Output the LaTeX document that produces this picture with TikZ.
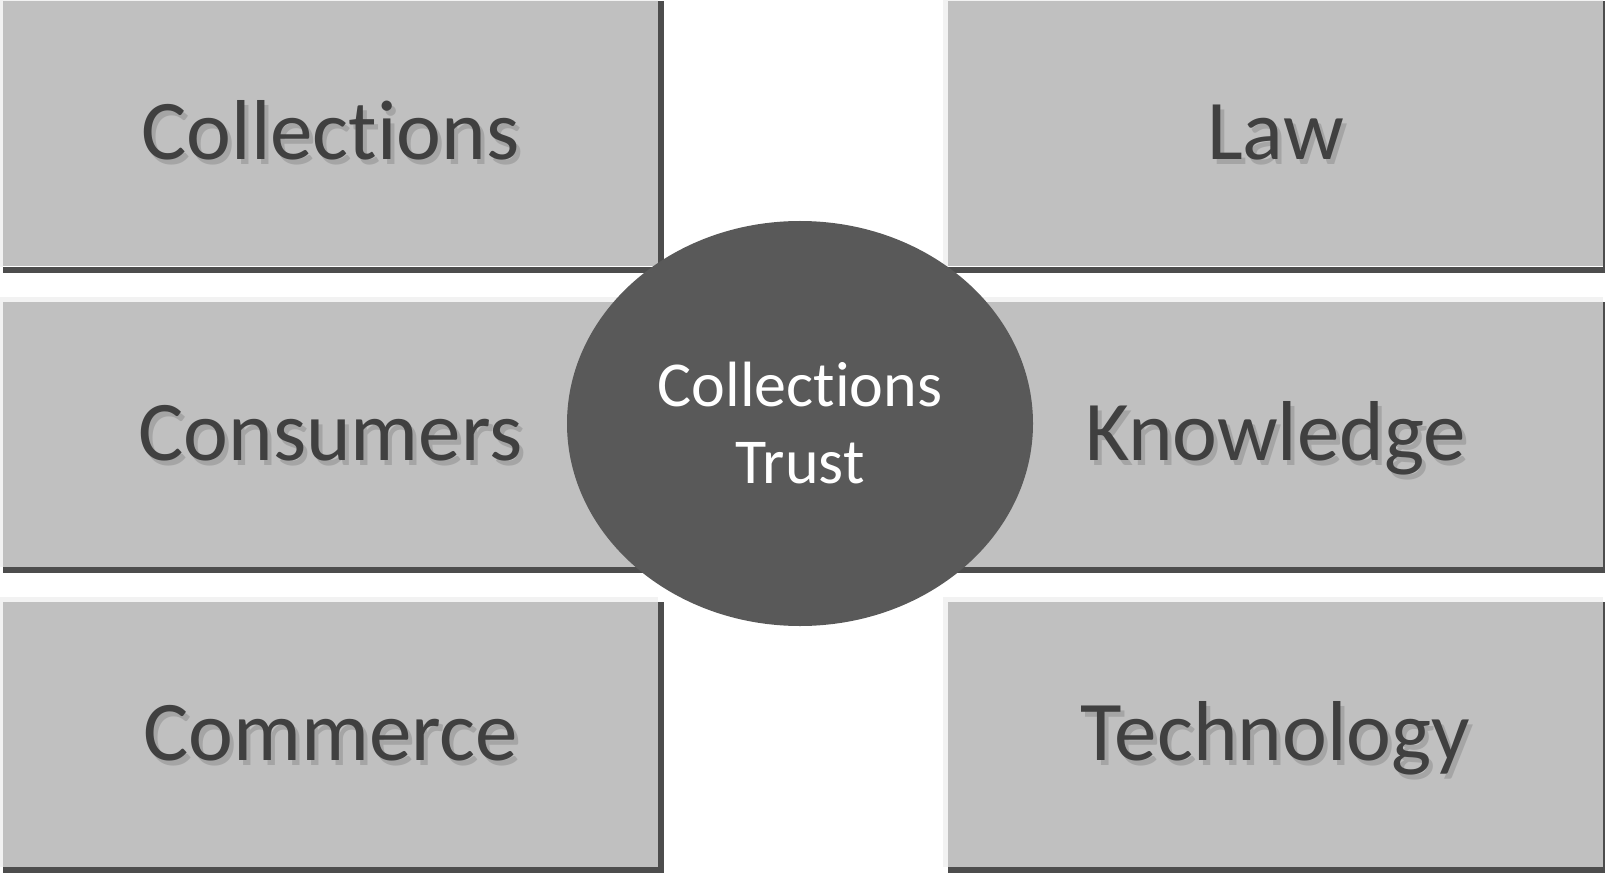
\documentclass[tikz,border=0pt]{standalone}
\usepackage{fontspec}
\setmainfont{Carlito}[Ligatures=NoCommon]
\usetikzlibrary{shapes.geometric}
\definecolor{boxfill}{HTML}{C0C0C0}
\definecolor{edgelight}{HTML}{F2F2F2}
\definecolor{edgedark}{HTML}{4D4D4D}
\definecolor{hubfill}{HTML}{595959}
\definecolor{labeltext}{HTML}{404040}
\definecolor{labelshadow}{HTML}{A5A5A5}
\newcommand\shadowedlabel[1]{\makebox[0pt][l]{\hspace*{4pt}\raisebox{-5pt}{\color{labelshadow}#1}}#1}
\newcommand\bevelbox[1]{%
  \fill[edgelight] ([shift={(-5,-5)}]#1.north west) rectangle (#1.north east);
  \fill[edgelight] ([xshift=-5pt]#1.north west) rectangle (#1.south west);
  \fill[edgedark] (#1.north east) rectangle ([shift={(6,6)}]#1.south east);
  \fill[edgedark] (#1.south west) rectangle ([yshift=-6pt]#1.south east);
}
\begin{document}
\begin{tikzpicture}[x=1pt,y=-1pt,
  catbox/.style={fill=boxfill, minimum width=655pt, minimum height=265pt, inner sep=0pt,
    text=labeltext, font=\fontsize{85}{100}\selectfont, text height=60pt, text depth=8pt},
  hub/.style={ellipse, fill=hubfill, minimum width=466pt, minimum height=405pt, inner sep=0pt,
    text=white, align=center, font=\fontsize{64}{77}\selectfont}]
\useasboundingbox (0,0) rectangle (1605,874);
\node[catbox] (collections) at (330.5,134) {\shadowedlabel{Collections}};
\node[catbox] (law) at (1275.5,134) {\shadowedlabel{Law}};
\node[catbox] (consumers) at (330.5,434.5) {\shadowedlabel{Consumers}};
\node[catbox] (knowledge) at (1275.5,434.5) {\shadowedlabel{Knowledge}};
\node[catbox] (commerce) at (330.5,734.5) {\shadowedlabel{Commerce}};
\node[catbox] (technology) at (1275.5,734.5) {\shadowedlabel{Technology}};
\bevelbox{collections}
\bevelbox{law}
\bevelbox{consumers}
\bevelbox{knowledge}
\bevelbox{commerce}
\bevelbox{technology}
\node[hub] (trust) at (800,423.5) {Collections\\Trust};
\end{tikzpicture}
\end{document}
